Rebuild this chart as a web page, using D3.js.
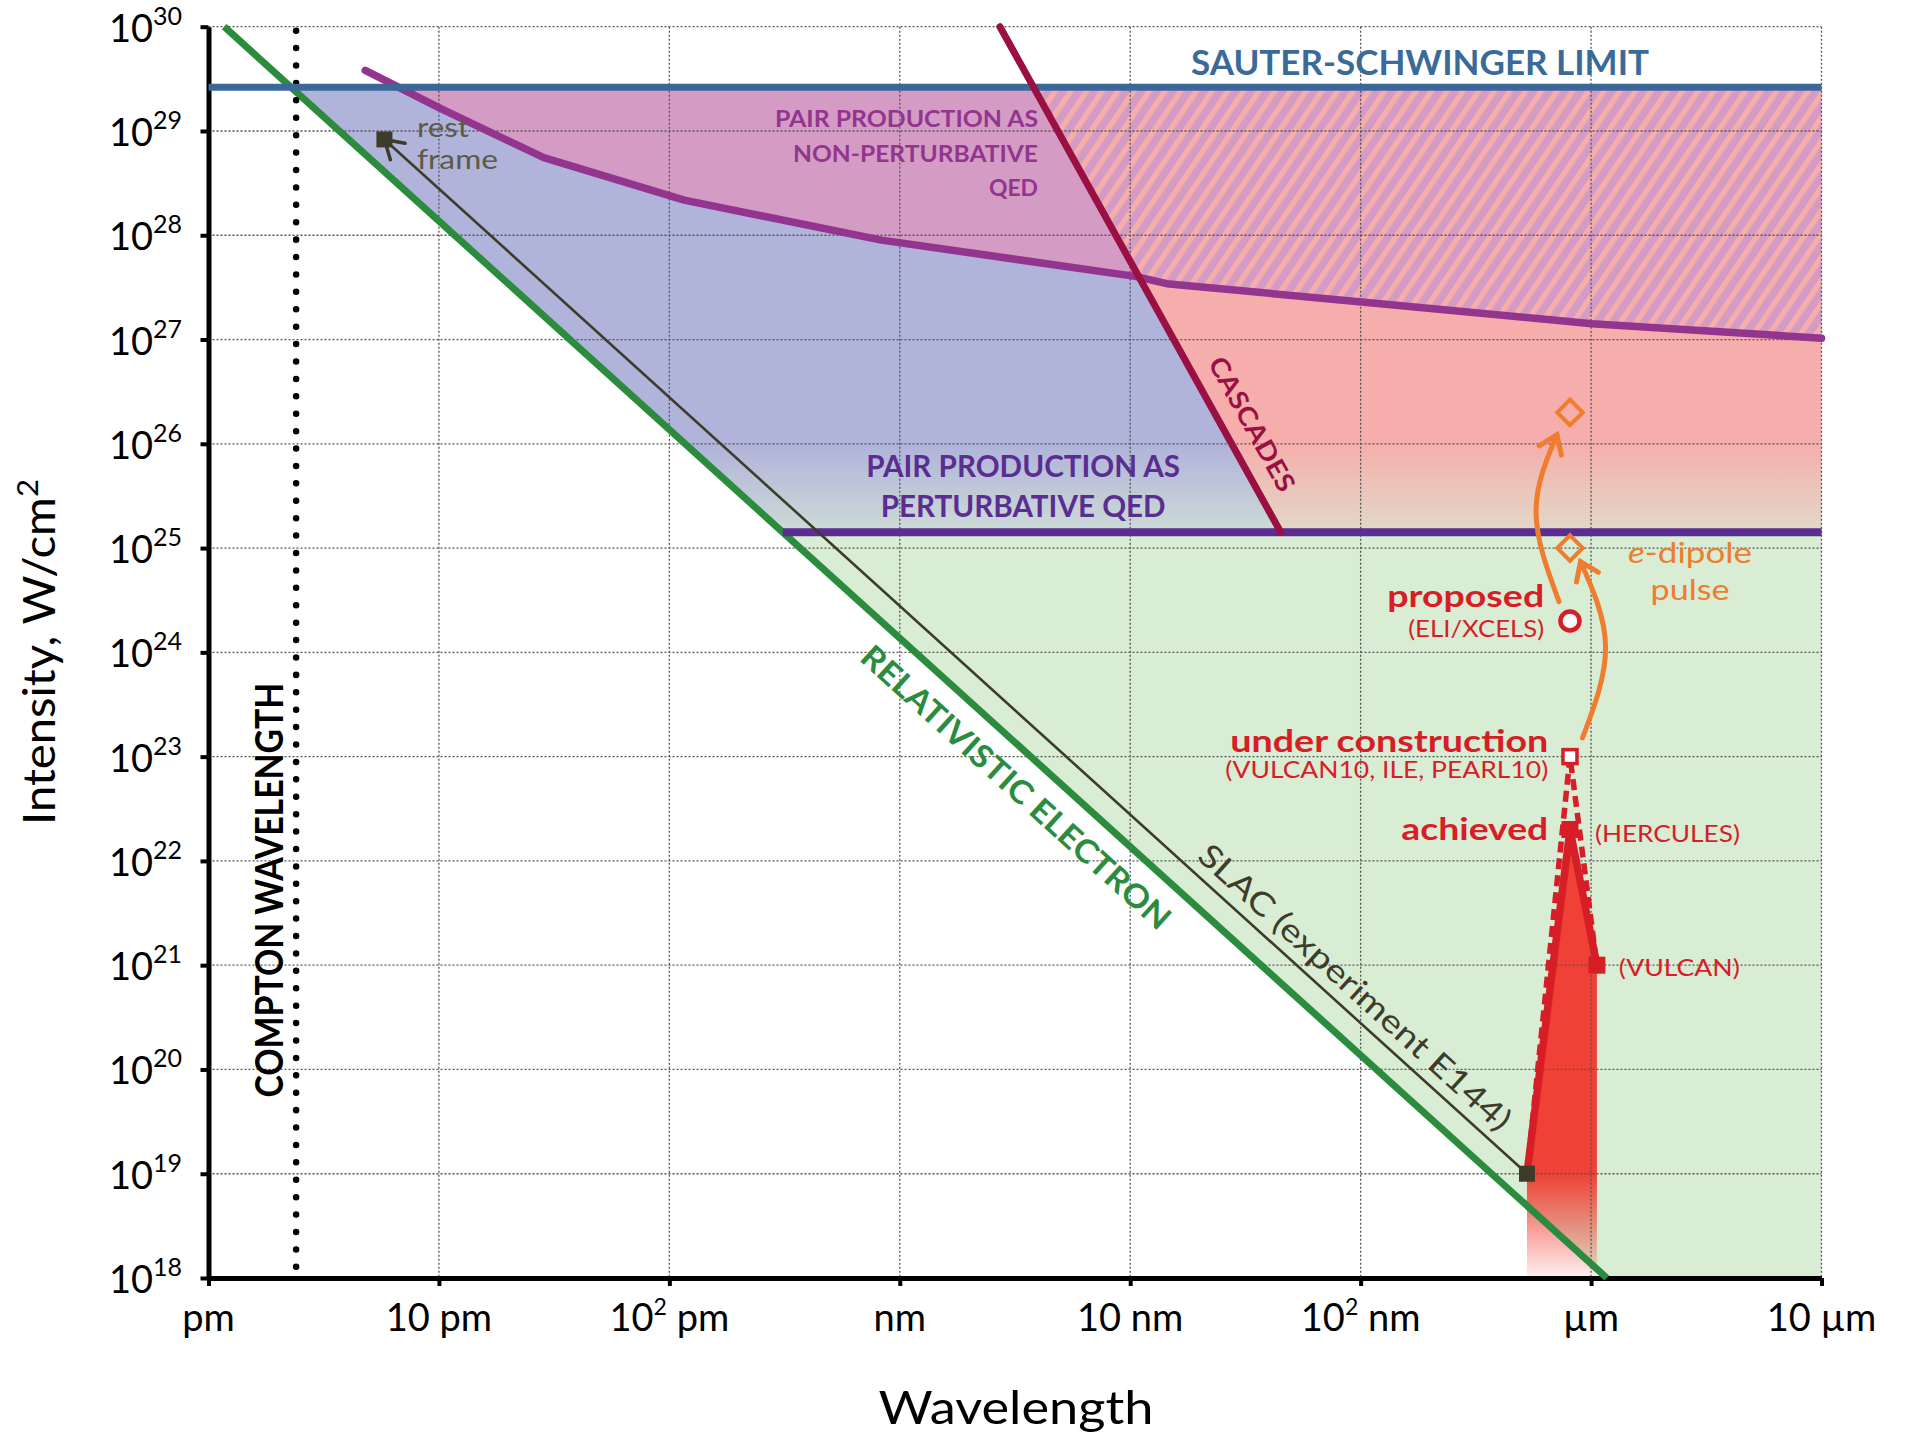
<!DOCTYPE html>
<html><head><meta charset="utf-8">
<script src="https://cdn.jsdelivr.net/npm/d3@7"></script>
<style>
html,body{margin:0;padding:0;background:#fff;}
svg{display:block;font-family:Lato,"Open Sans",sans-serif;}
</style></head>
<body><svg id="chart" width="1905" height="1434"></svg>
<script>
// ---------------- data (wavelength in metres, intensity in W/cm^2) ----------------
const xTickValues = [1e-12, 1e-11, 1e-10, 1e-9, 1e-8, 1e-7, 1e-6, 1e-5];
const xTickLabels = ["pm", "10 pm", "10² pm", "nm", "10 nm", "10² nm", "µm", "10 µm"];
const yTickExponents = [18, 19, 20, 21, 22, 23, 24, 25, 26, 27, 28, 29, 30];

const comptonWavelength = 2.4e-12;
const sauterSchwingerIntensity = 2.63e29;
const perturbativeQEDIntensity = 1.42e25;
const relativisticElectronLine = [[1.17e-12, 1e30], [1.17e-6, 1e18]];
const cascadesLine = [[2.72e-9, 1e30], [4.5e-8, 1.42e25]];
const nonPerturbativeCurve = [
  [4.79e-12, 3.81e29], [1.03e-11, 1.62e29], [2.85e-11, 5.55e28], [1.16e-10, 2.17e28],
  [8.32e-10, 8.98e27], [1.05e-8, 4.03e27], [1.44e-8, 3.43e27], [1.01e-7, 2.29e27],
  [1.01e-6, 1.42e27], [1e-5, 1.03e27]
];
const slacLine = [[5.27e-7, 1e19], [5.8e-12, 8.3e28]];
const laserAchieved = [[5.27e-7, 1e19], [8.1e-7, 2e22], [1.06e-6, 1e21]];
const laserUnderConstruction = [[5.27e-7, 1e19], [8.1e-7, 1e23], [1.06e-6, 1e21]];
const achievedPoints = [[8.1e-7, 2e22], [1.06e-6, 1e21]];
const underConstructionPoint = [8.1e-7, 1e23];
const proposedPoint = [8.1e-7, 2e24];
const dipolePoints = [[8.1e-7, 1e25], [8.1e-7, 2e26]];
const dipoleArrowUpper = [[7.26e-7, 3.07e24], [5.77e-7, 2.18e25], [7.11e-7, 1.22e26]];
const dipoleArrowLower = [[9.18e-7, 1.51e23], [1.156e-6, 1.13e24], [9.0e-7, 7.42e24]];

// label anchors (data coordinates)
const nonPertLines = ["PAIR PRODUCTION AS", "NON-PERTURBATIVE", "QED"];
const nonPertAnchors = [[3.98e-9, 1.1e29], [3.98e-9, 5.07e28], [3.98e-9, 2.39e28]];
const pertLines = ["PAIR PRODUCTION AS", "PERTURBATIVE QED"];
const pertAnchors = [[3.43e-9, 4.83e25], [3.43e-9, 1.97e25]];

// ---------------- scales ----------------
const svg = d3.select("#chart");
const x = d3.scaleLog().domain([1e-12, 1e-5]).range([208.5, 1821.5]);
const y = d3.scaleLog().domain([1e18, 1e30]).range([1278, 26.7]);
const X = d => x(d[0]), Y = d => y(d[1]);
const lineGen = d3.line().x(X).y(Y);
const poly = pts => lineGen(pts) + "Z";
const LMIN = 1e-12, LMAX = 1e-5, IMIN = 1e18, IMAX = 1e30;
const SS = sauterSchwingerIntensity, PQ = perturbativeQEDIntensity;

function lamAt(seg, I) {
  const [a, b] = seg, L = Math.log10;
  const t = (L(I) - L(a[1])) / (L(b[1]) - L(a[1]));
  return Math.pow(10, L(a[0]) + t * (L(b[0]) - L(a[0])));
}
const greenSS = lamAt(relativisticElectronLine, SS);
const greenPQ = lamAt(relativisticElectronLine, PQ);
const cascSS = lamAt(cascadesLine, SS);

// ---------------- defs ----------------
const defs = svg.append("defs");
defs.append("clipPath").attr("id", "belowSS").append("rect")
  .attr("x", x(LMIN)).attr("y", y(SS)).attr("width", x(LMAX) - x(LMIN)).attr("height", y(IMIN) - y(SS));
defs.append("clipPath").attr("id", "rightOfCasc").append("path")
  .attr("d", poly([cascadesLine[0], [LMAX, IMAX], [LMAX, IMIN], [lamAt(cascadesLine, IMIN), IMIN]]));
defs.append("clipPath").attr("id", "rightOfGreen").append("path")
  .attr("d", poly([relativisticElectronLine[0], [LMAX, IMAX], [LMAX, IMIN], relativisticElectronLine[1]]));

const pat = defs.append("pattern").attr("id", "hatch").attr("patternUnits", "userSpaceOnUse")
  .attr("width", 13).attr("height", 13).attr("patternTransform", "rotate(34)");
pat.append("rect").attr("width", 13).attr("height", 13).attr("fill", "#d49bc4");
pat.append("rect").attr("width", 5.5).attr("height", 13).attr("fill", "#f5aeac");

const fade = defs.append("linearGradient").attr("id", "fadeGreen").attr("gradientUnits", "userSpaceOnUse")
  .attr("x1", 0).attr("x2", 0).attr("y1", y(1e26)).attr("y2", y(PQ));
fade.append("stop").attr("offset", 0).attr("stop-color", "#d9ecd4").attr("stop-opacity", 0);
fade.append("stop").attr("offset", 1).attr("stop-color", "#d9ecd4").attr("stop-opacity", 0.7);

const redFade = defs.append("linearGradient").attr("id", "redFade").attr("gradientUnits", "userSpaceOnUse")
  .attr("x1", 0).attr("x2", 0).attr("y1", y(1e19)).attr("y2", y(1e18));
redFade.append("stop").attr("offset", 0).attr("stop-color", "#ef4136").attr("stop-opacity", 1);
redFade.append("stop").attr("offset", 1).attr("stop-color", "#ef4136").attr("stop-opacity", 0.08);

function chevron(id, color, w, len, half) {
  defs.append("marker").attr("id", id).attr("markerUnits", "userSpaceOnUse")
    .attr("viewBox", `${-len - 4} ${-half - 4} ${len + 8} ${2 * half + 8}`)
    .attr("markerWidth", len + 8).attr("markerHeight", 2 * half + 8)
    .attr("refX", 0).attr("refY", 0).attr("orient", "auto")
    .append("path").attr("d", `M${-len},${-half} L0,0 L${-len},${half}`)
    .attr("fill", "none").attr("stroke", color).attr("stroke-width", w)
    .attr("stroke-linecap", "round").attr("stroke-linejoin", "miter");
}
chevron("darkHead", "#3d3c2a", 3.5, 18, 11);
chevron("orangeHead", "#ef7d2d", 5, 17, 12);

// ---------------- regions ----------------
const gReg = svg.append("g");
gReg.append("path").attr("fill", "#d9ecd4")
  .attr("d", poly([[greenPQ, PQ], [LMAX, PQ], [LMAX, IMIN], relativisticElectronLine[1]]));
gReg.append("path").attr("fill", "#b0b3da")
  .attr("d", poly([[greenSS, SS], [cascSS, SS], cascadesLine[1], [greenPQ, PQ]]));
gReg.append("path").attr("fill", "#f6aeac")
  .attr("d", poly([[cascSS, SS], [LMAX, SS], [LMAX, PQ], cascadesLine[1]]));
const pinkPoly = nonPerturbativeCurve.concat([[LMAX, IMAX], [nonPerturbativeCurve[0][0], IMAX]]);
const gSS = gReg.append("g").attr("clip-path", "url(#belowSS)");
gSS.append("path").attr("d", poly(pinkPoly)).attr("fill", "#d49bc4");
gSS.append("path").attr("d", poly(pinkPoly)).attr("fill", "url(#hatch)").attr("clip-path", "url(#rightOfCasc)");
gReg.append("rect").attr("clip-path", "url(#rightOfGreen)")
  .attr("x", x(LMIN)).attr("width", x(LMAX) - x(LMIN))
  .attr("y", y(1e26)).attr("height", y(PQ) - y(1e26)).attr("fill", "url(#fadeGreen)");

// laser fill
gReg.append("path").attr("fill", "url(#redFade)")
  .attr("d", poly([[laserAchieved[0][0], IMIN]].concat(laserAchieved, [[laserAchieved[2][0], IMIN]])));

// ---------------- grid ----------------
const gGrid = svg.append("g").attr("stroke", "#555").attr("stroke-width", 1.3).attr("stroke-dasharray", "2,2");
xTickValues.slice(1).forEach(v => gGrid.append("line")
  .attr("x1", x(v)).attr("x2", x(v)).attr("y1", y(IMAX)).attr("y2", y(IMIN)));
yTickExponents.slice(1).forEach(e => gGrid.append("line")
  .attr("x1", x(LMIN)).attr("x2", x(LMAX)).attr("y1", y(Math.pow(10, e))).attr("y2", y(Math.pow(10, e))));

// ---------------- axes ----------------
const xAxis = svg.append("g").attr("transform", `translate(0,${y(IMIN)})`)
  .call(d3.axisBottom(x).tickValues(xTickValues).tickSize(8).tickSizeOuter(0).tickFormat(""));
const yAxis = svg.append("g").attr("transform", `translate(${x(LMIN)},0)`)
  .call(d3.axisLeft(y).tickValues(yTickExponents.map(e => Math.pow(10, e))).tickSize(8).tickSizeOuter(0).tickFormat(""));
[xAxis, yAxis].forEach(a => {
  a.select(".domain").attr("stroke", "#000").attr("stroke-width", 5);
  a.selectAll(".tick line").attr("stroke", "#000").attr("stroke-width", 4);
});

// tick labels
xTickValues.forEach((v, i) => {
  const t = svg.append("text").attr("x", x(v)).attr("y", 1331).attr("text-anchor", "middle")
    .attr("font-size", 38).attr("fill", "#000");
  const lab = xTickLabels[i];
  if (lab.includes("²")) {
    const [a, b] = lab.split("²");
    t.append("tspan").text(a);
    t.append("tspan").attr("font-size", 23).attr("dy", -16).text("2");
    t.append("tspan").attr("dy", 16).text(b);
  } else t.text(lab);
});
yTickExponents.forEach(e => {
  const t = svg.append("text").attr("x", 182).attr("y", y(Math.pow(10, e)) + 15)
    .attr("text-anchor", "end").attr("fill", "#000");
  t.append("tspan").attr("font-size", 38).text("10");
  t.append("tspan").attr("font-size", 25).attr("dy", -17).text(e);
});

const yl = svg.append("text").attr("transform", "translate(55,652) rotate(-90)").attr("text-anchor", "middle")
  .attr("font-size", 44).attr("textLength", 346).attr("lengthAdjust", "spacingAndGlyphs");
yl.append("tspan").text("Intensity, W/cm");
yl.append("tspan").attr("font-size", 29).attr("dy", -17).text("2");
svg.append("text").attr("x", 1016).attr("y", 1424).attr("text-anchor", "middle")
  .attr("font-size", 46).attr("textLength", 275).attr("lengthAdjust", "spacingAndGlyphs")
  .text("Wavelength");

// ---------------- lines ----------------
const gL = svg.append("g").attr("fill", "none");
gL.append("path").attr("d", lineGen(relativisticElectronLine)).attr("stroke", "#2b8c3e").attr("stroke-width", 7);
gL.append("line").attr("x1", x(comptonWavelength)).attr("x2", x(comptonWavelength))
  .attr("y1", y(IMAX) + 4).attr("y2", y(IMIN) - 4)
  .attr("stroke", "#000").attr("stroke-width", 6.5).attr("stroke-linecap", "round").attr("stroke-dasharray", "0.01,17.4");
gL.append("path").attr("d", lineGen([[greenPQ, PQ], [LMAX, PQ]])).attr("stroke", "#5a2d91").attr("stroke-width", 8);
gL.append("path").attr("d", lineGen(nonPerturbativeCurve)).attr("stroke", "#93358f").attr("stroke-width", 7.5)
  .attr("stroke-linecap", "round").attr("stroke-linejoin", "round");
gL.append("path").attr("d", lineGen([[LMIN, SS], [LMAX, SS]])).attr("stroke", "#3b6898").attr("stroke-width", 7);
gL.append("path").attr("d", lineGen(cascadesLine)).attr("stroke", "#9b1042").attr("stroke-width", 7).attr("stroke-linecap", "round");
gL.append("path").attr("d", lineGen(slacLine)).attr("stroke", "#3d3c2a").attr("stroke-width", 2.6)
  .attr("marker-end", "url(#darkHead)");
gL.append("path").attr("d", lineGen(laserAchieved)).attr("stroke", "#d71e26").attr("stroke-width", 7.5)
  .attr("stroke-linejoin", "round");
gL.append("path").attr("d", lineGen(laserUnderConstruction)).attr("stroke", "#d71e26").attr("stroke-width", 5.5)
  .attr("stroke-dasharray", "11,6");
const curveGen = d3.line().x(X).y(Y).curve(d3.curveNatural);
[dipoleArrowUpper, dipoleArrowLower].forEach(a => gL.append("path").attr("d", curveGen(a))
  .attr("stroke", "#ef7d2d").attr("stroke-width", 5).attr("stroke-linecap", "round").attr("marker-end", "url(#orangeHead)"));

// ---------------- markers ----------------
const gM = svg.append("g");
function square(p, s, fill, stroke, sw) {
  gM.append("rect").attr("x", X(p) - s / 2).attr("y", Y(p) - s / 2).attr("width", s).attr("height", s)
    .attr("fill", fill).attr("stroke", stroke).attr("stroke-width", sw);
}
slacLine.forEach(p => square(p, 16, "#3d3c2a", "none", 0));
achievedPoints.forEach(p => square(p, 17, "#d71e26", "none", 0));
square(underConstructionPoint, 14, "#fff", "#d71e26", 3.5);
gM.append("circle").attr("cx", X(proposedPoint)).attr("cy", Y(proposedPoint)).attr("r", 9.5)
  .attr("fill", "#fff").attr("stroke", "#d71e26").attr("stroke-width", 4.5);
dipolePoints.forEach(p => gM.append("rect").attr("x", -9).attr("y", -9).attr("width", 18).attr("height", 18)
  .attr("transform", `translate(${X(p)},${Y(p)}) rotate(45)`)
  .attr("fill", "none").attr("stroke", "#ef7d2d").attr("stroke-width", 4));

// ---------------- annotations ----------------
const gT = svg.append("g");
function label(txt, p, o) {
  const t = gT.append("text").attr("x", X(p)).attr("y", Y(p))
    .attr("text-anchor", o.anchor || "start").attr("font-size", o.size)
    .attr("font-weight", o.bold ? 700 : 400).attr("fill", o.color);
  if (o.len) t.attr("textLength", o.len).attr("lengthAdjust", "spacingAndGlyphs");
  t.text(txt);
  return t;
}
function rotLabel(txt, p, angle, o) {
  const t = gT.append("text").attr("transform", `translate(${X(p)},${Y(p)}) rotate(${angle})`)
    .attr("text-anchor", "middle").attr("dy", "0.36em").attr("font-size", o.size)
    .attr("font-weight", o.bold ? 700 : 400).attr("fill", o.color);
  if (o.len) t.attr("textLength", o.len).attr("lengthAdjust", "spacingAndGlyphs");
  t.text(txt);
}
const angleOf = seg => Math.atan2(Y(seg[1]) - Y(seg[0]), X(seg[1]) - X(seg[0])) * 180 / Math.PI;

label("SAUTER-SCHWINGER LIMIT", [1.81e-7, 3.44e29], {anchor: "middle", size: 35, bold: true, color: "#3b6a99", len: 458});
const npLens = [263, 245, 49];
nonPertLines.forEach((s, i) => label(s, nonPertAnchors[i], {anchor: "end", size: 23, bold: true, color: "#93358f", len: npLens[i]}));
const pLens = [314, 285];
pertLines.forEach((s, i) => label(s, pertAnchors[i], {anchor: "middle", size: 30, bold: true, color: "#5a2d91", len: pLens[i]}));

const cascAng = angleOf(cascadesLine);
rotLabel("CASCADES", [3.38e-8, 1.55e26], cascAng, {size: 26, bold: true, color: "#9b1042", len: 150});
const relAng = angleOf(relativisticElectronLine);
rotLabel("RELATIVISTIC ELECTRON", [3.2e-9, 5.1e22], relAng, {size: 32, bold: true, color: "#2b8c3e", len: 405});
rotLabel("SLAC (experiment E144)", [9.46e-8, 6.17e20], relAng, {size: 32, bold: false, color: "#3d3c2a", len: 409});
gT.append("text").attr("transform", `translate(${x(2.105e-12)},${y(5.25e21)}) rotate(-90)`)
  .attr("text-anchor", "middle").attr("font-size", 38).attr("font-weight", 700)
  .attr("textLength", 415).attr("lengthAdjust", "spacingAndGlyphs").text("COMPTON WAVELENGTH");

label("rest", [8.03e-12, 8.85e28], {size: 26, color: "#5b5b48", len: 52});
label("frame", [8.03e-12, 4.3e28], {size: 26, color: "#5b5b48", len: 81});

const red = "#d71e26";
label("proposed", [6.26e-7, 2.73e24], {anchor: "end", size: 31, bold: true, color: red, len: 157});
label("(ELI/XCELS)", [6.26e-7, 1.41e24], {anchor: "end", size: 23, color: red, len: 136});
label("under construction", [6.52e-7, 1.11e23], {anchor: "end", size: 31, bold: true, color: red, len: 318});
label("(VULCAN10, ILE, PEARL10)", [6.52e-7, 6.2e22], {anchor: "end", size: 23, color: red, len: 323});
label("achieved", [6.52e-7, 1.6e22], {anchor: "end", size: 31, bold: true, color: red, len: 147});
label("(HERCULES)", [1.039e-6, 1.53e22], {size: 23, color: red, len: 145});
label("(VULCAN)", [1.32e-6, 7.82e20], {size: 23, color: red, len: 121});

const ed = gT.append("text").attr("x", x(2.69e-6)).attr("y", y(7.14e24)).attr("text-anchor", "middle")
  .attr("font-size", 29).attr("fill", "#ef7d2d").attr("textLength", 124).attr("lengthAdjust", "spacingAndGlyphs");
ed.append("tspan").attr("font-style", "italic").text("e");
ed.append("tspan").text("-dipole");
label("pulse", [2.69e-6, 3.18e24], {anchor: "middle", size: 29, color: "#ef7d2d", len: 79});
</script>
</body></html>
